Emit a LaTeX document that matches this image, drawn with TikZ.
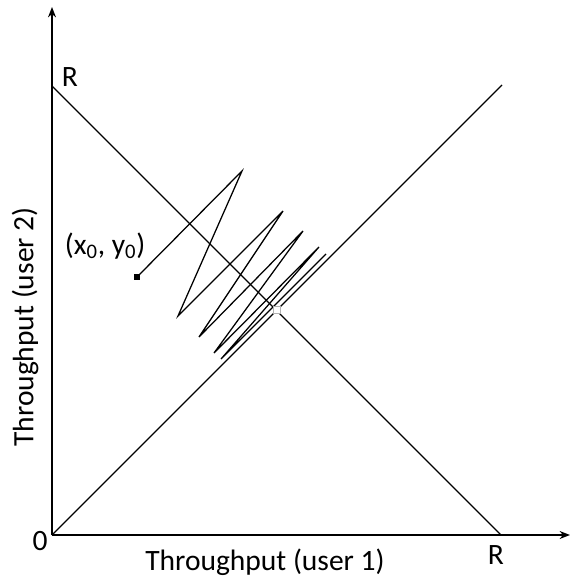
\documentclass[tikz,border=0pt]{standalone}
\usepackage{fontspec}
\setmainfont{Carlito}
\usepackage{tikz}
\usetikzlibrary{arrows.meta,positioning,calc}

\begin{document}
\begin{tikzpicture}[
  x=0.025cm, y=0.025cm,
  axis/.style={-{Stealth[length=2.6mm,width=2mm]}, line width=0.9pt},
  curve/.style={line width=0.9pt},
  lbl/.style={font=\fontsize{21}{23}\selectfont, inner sep=1pt},
  startpt/.style={fill=black, minimum size=0.15cm, inner sep=0pt},
  fairpt/.style={draw=gray!60, fill=white, minimum size=0.16cm, inner sep=0pt, line width=0.6pt}
]
\useasboundingbox (-52,-44) rectangle (519,535);

% Axes
\coordinate (o) at (0,0);
\coordinate (xend) at (518,0);
\coordinate (yend) at (0,528);
\draw[axis] (o) -- (xend);
\draw[axis] (o) -- (yend);

% Efficiency line (x+y=R) and fairness line (x=y)
\coordinate (ry) at (0,449);
\coordinate (rx) at (449,0);
\coordinate (fair) at (450,450);
\draw[curve] (ry) -- (rx);
\draw[curve] (o) -- (fair);

% Labels
\node[lbl] (zero) at (-12,-6) {0};
\node[lbl] (rtop) at (18,458) {R};
\node[lbl] (rbot) at (444,-20) {R};
\node[lbl] (xlab) at (213,-27) {Throughput (user 1)};
\node[lbl, rotate=90] (ylab) at (-27,208) {Throughput (user 2)};

% AIMD trajectory
\node[startpt] (start) at (85,258) {};
\node[lbl, anchor=east] (startlbl) at (95,289) {(x\textsubscript{0}, y\textsubscript{0})};
\draw[curve, line join=miter]
  (start.center) -- (190,364) -- (126,219) -- (231,324) -- (147,198)
  -- (251,304) -- (162,182) -- (267,288) -- (169,176) -- (274,281);

% Optimal point
\node[fairpt] (opt) at (225,225) {};

\end{tikzpicture}
\end{document}
